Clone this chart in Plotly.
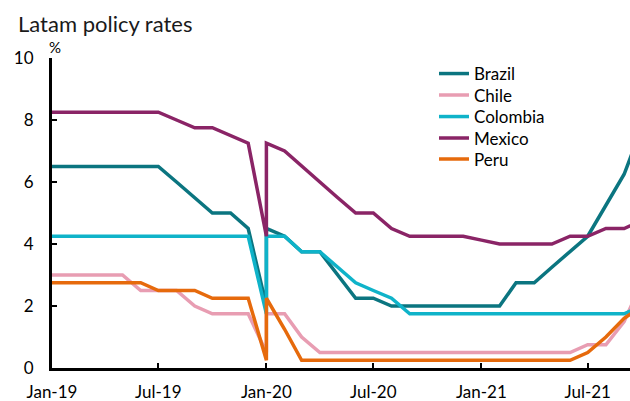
import plotly.graph_objects as go

dates = (
    [f"2019-{m:02d}-01" for m in range(1, 13)]
    + ["2020-01-01", "2020-01-01"]
    + [f"2020-{m:02d}-01" for m in range(2, 13)]
    + [f"2021-{m:02d}-01" for m in range(1, 11)]
)

brazil = [6.5, 6.5, 6.5, 6.5, 6.5, 6.5, 6.5, 6.0, 5.5, 5.0, 5.0, 4.5,
          2.0, 4.5,
          4.25, 3.75, 3.75, 3.0, 2.25, 2.25, 2.0, 2.0, 2.0, 2.0, 2.0,
          2.0, 2.0, 2.75, 2.75, 3.25, 3.75, 4.25, 5.25, 6.25, 7.75]
chile = [3.0, 3.0, 3.0, 3.0, 3.0, 2.5, 2.5, 2.5, 2.0, 1.75, 1.75, 1.75,
         0.5, 1.75,
         1.75, 1.0, 0.5, 0.5, 0.5, 0.5, 0.5, 0.5, 0.5, 0.5, 0.5,
         0.5, 0.5, 0.5, 0.5, 0.5, 0.5, 0.75, 0.75, 1.5, 2.75]
colombia = [4.25, 4.25, 4.25, 4.25, 4.25, 4.25, 4.25, 4.25, 4.25, 4.25, 4.25, 4.25,
            1.75, 4.25,
            4.25, 3.75, 3.75, 3.25, 2.75, 2.5, 2.25, 1.75, 1.75, 1.75, 1.75,
            1.75, 1.75, 1.75, 1.75, 1.75, 1.75, 1.75, 1.75, 1.75, 2.0]
mexico = [8.25, 8.25, 8.25, 8.25, 8.25, 8.25, 8.25, 8.0, 7.75, 7.75, 7.5, 7.25,
          4.25, 7.25,
          7.0, 6.5, 6.0, 5.5, 5.0, 5.0, 4.5, 4.25, 4.25, 4.25, 4.25,
          4.125, 4.0, 4.0, 4.0, 4.0, 4.25, 4.25, 4.5, 4.5, 4.75]
peru = [2.75, 2.75, 2.75, 2.75, 2.75, 2.75, 2.5, 2.5, 2.5, 2.25, 2.25, 2.25,
        0.25, 2.25,
        1.25, 0.25, 0.25, 0.25, 0.25, 0.25, 0.25, 0.25, 0.25, 0.25, 0.25,
        0.25, 0.25, 0.25, 0.25, 0.25, 0.25, 0.5, 1.0, 1.6, 2.0]

names = ["Brazil", "Chile", "Colombia", "Mexico", "Peru"]
values = [brazil, chile, colombia, mexico, peru]
colors = ["#0b7580", "#e89db2", "#0fb3c9", "#8a2466", "#e66a0c"]

y_ticks = [0, 2, 4, 6, 8, 10]
x_ticks = ["2019-01-01", "2019-07-01", "2020-01-01", "2020-07-01", "2021-01-01", "2021-07-01"]
x_labels = ["Jan-19", "Jul-19", "Jan-20", "Jul-20", "Jan-21", "Jul-21"]

FONT = "Lato"

PL, PT, PW, PH = 52, 58, 578, 310   # plot area in pixels


def px(x):
    return (x - PL) / PW


def py(y):
    return 1 - (y - PT) / PH


legend_rows = [74, 95.5, 117, 138.5, 159.5]
legend_ids = ["legend", "legend2", "legend3", "legend4", "legend5"]

fig = go.Figure()
for name, vals, col, lid in zip(names, values, colors, legend_ids):
    fig.add_trace(go.Scatter(
        x=dates, y=vals, name=name, mode="lines",
        line=dict(color=col, width=3.5), legend=lid,
    ))

legend_kw = {}
for lid, row in zip(legend_ids, legend_rows):
    legend_kw[lid] = dict(
        x=px(434), y=py(row), xanchor="left", yanchor="middle",
        bgcolor="rgba(0,0,0,0)", font=dict(size=17, family=FONT, color="#000000"),
    )

fig.update_layout(
    width=630, height=401,
    margin=dict(l=52, r=0, t=58, b=33),
    plot_bgcolor="white", paper_bgcolor="white",
    font=dict(family=FONT, size=17, color="#000000"),
    showlegend=True,
    xaxis=dict(
        type="date", range=["2019-01-01", "2021-09-11"],
        tickvals=x_ticks, ticktext=x_labels,
        ticks="inside", ticklen=5, tickwidth=2, tickcolor="black",
        showline=True, linecolor="black", linewidth=3,
        showgrid=False, zeroline=False, ticklabelstandoff=7,
        automargin=False,
    ),
    yaxis=dict(
        range=[0, 10], tickvals=y_ticks,
        ticks="inside", ticklen=5, tickwidth=2, tickcolor="black",
        showline=True, linecolor="black", linewidth=3,
        showgrid=False, zeroline=False, ticklabelstandoff=12,
        automargin=False,
    ),
    annotations=[
        dict(text="Latam policy rates", xref="paper", yref="paper",
             x=px(16), y=py(23), xanchor="left", yanchor="middle",
             showarrow=False, font=dict(size=22, family=FONT, color="#1a1a1a")),
        dict(text="%", xref="paper", yref="paper",
             x=px(55), y=py(47.5), xanchor="center", yanchor="middle",
             showarrow=False, font=dict(size=15, family=FONT, color="#000000")),
    ],
    **legend_kw,
)

fig.write_html(
    "out.html",
    config={"displayModeBar": False},
    post_script="document.body.style.margin='0';document.body.style.overflow='hidden';",
)
